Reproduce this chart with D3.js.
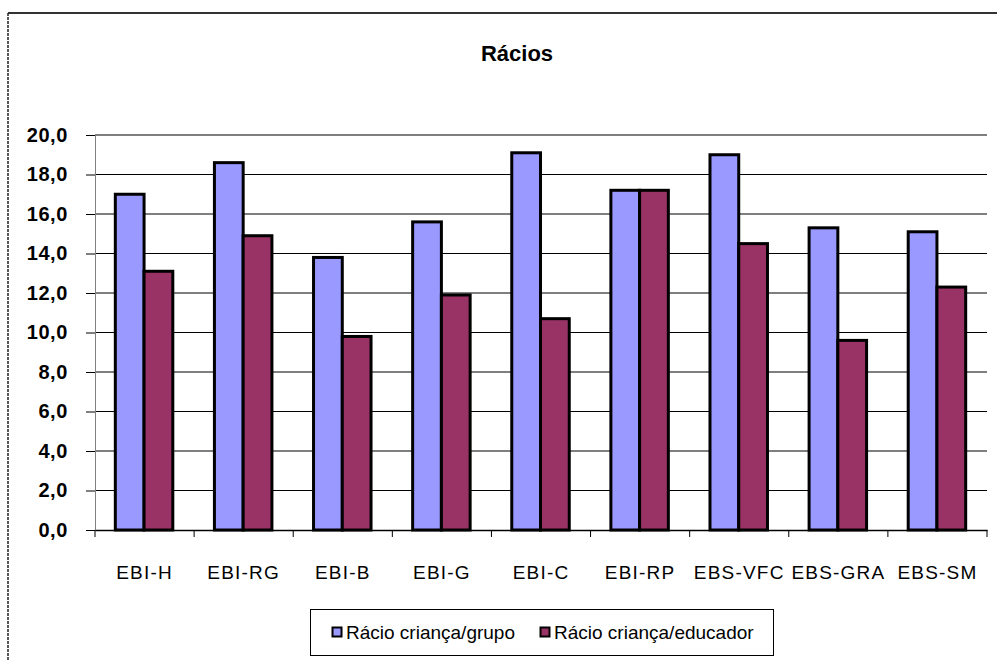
<!DOCTYPE html>
<html>
<head>
<meta charset="utf-8">
<script src="https://cdn.jsdelivr.net/npm/d3@7"></script>
<style>
  body { margin: 0; background: #fff; }
  svg { display: block; font-family: Arial, "Liberation Sans", sans-serif; }
</style>
</head>
<body>
<svg id="chart" width="997" height="660"></svg>
<script>
// data
const categories = ["EBI-H", "EBI-RG", "EBI-B", "EBI-G", "EBI-C", "EBI-RP", "EBS-VFC", "EBS-GRA", "EBS-SM"];
const series = ["Rácio criança/grupo", "Rácio criança/educador"];
const ratioGroup = [17.0, 18.6, 13.8, 15.6, 19.1, 17.2, 19.0, 15.3, 15.1];
const ratioEducator = [13.1, 14.9, 9.8, 11.9, 10.7, 17.2, 14.5, 9.6, 12.3];
const yTicks = [0, 2, 4, 6, 8, 10, 12, 14, 16, 18, 20];
const colors = ["#9999FF", "#993366"];

const svg = d3.select("#chart");
const plot = {left: 95, right: 987, top: 135, bottom: 530};

// outer frame: solid top, dashed left
svg.append("line").attr("x1", 8).attr("x2", 997).attr("y1", 13).attr("y2", 13)
    .attr("stroke", "#333").attr("stroke-width", 2);
svg.append("line").attr("x1", 8).attr("x2", 8).attr("y1", 13).attr("y2", 660)
    .attr("stroke", "#222").attr("stroke-width", 1.5).attr("stroke-dasharray", "3,1");

svg.append("text").attr("x", 517).attr("y", 61).attr("text-anchor", "middle")
    .attr("font-size", 22).attr("font-weight", "bold").text("Rácios");

const x0 = d3.scaleBand().domain(categories).range([plot.left, plot.right]);
const x1 = d3.scaleBand().domain(series).range([x0.step() * 0.205, x0.step() * 0.785]);
const y = d3.scaleLinear().domain([0, 20]).range([plot.bottom, plot.top]);

// gridlines
svg.append("g").selectAll("line").data(yTicks.filter(d => d > 0)).join("line")
    .attr("x1", plot.left).attr("x2", plot.right)
    .attr("y1", d => y(d)).attr("y2", d => y(d))
    .attr("stroke", "#000").attr("stroke-width", 1.2);

// y axis
const yAxis = svg.append("g").attr("transform", `translate(${plot.left},0)`)
    .call(d3.axisLeft(y).tickValues(yTicks).tickSize(9).tickPadding(18)
        .tickFormat(d => d3.format(".1f")(d).replace(".", ",")));
yAxis.select(".domain").attr("stroke", "#808080");
yAxis.selectAll(".tick line").attr("stroke", "#000");
yAxis.selectAll("text").attr("font-size", 20).attr("font-weight", "bold").attr("letter-spacing", 0.6)
    .attr("font-family", "Arial, 'Liberation Sans', sans-serif").attr("fill", "#000");

// bars
const rows = categories.map((c, i) => ({cat: c, vals: [ratioGroup[i], ratioEducator[i]]}));
svg.append("g").selectAll("g").data(rows).join("g")
    .attr("transform", d => `translate(${x0(d.cat)},0)`)
    .selectAll("rect").data(d => d.vals.map((v, j) => ({key: series[j], v, j}))).join("rect")
    .attr("x", d => x1(d.key)).attr("width", x1.bandwidth())
    .attr("y", d => y(d.v)).attr("height", d => y(0) - y(d.v))
    .attr("fill", d => colors[d.j]).attr("stroke", "#000").attr("stroke-width", 3);

// x axis
const xAxis = svg.append("g").attr("transform", `translate(0,${plot.bottom})`)
    .call(d3.axisBottom(x0).tickSize(0).tickPadding(36));
xAxis.select(".domain").attr("stroke", "#000").attr("stroke-width", 1.5);
xAxis.selectAll("text").attr("font-size", 19).attr("letter-spacing", 1.2)
    .attr("font-family", "Arial, 'Liberation Sans', sans-serif").attr("fill", "#000");
svg.append("g").selectAll("line").data(d3.range(categories.length + 1)).join("line")
    .attr("x1", i => plot.left + i * x0.step()).attr("x2", i => plot.left + i * x0.step())
    .attr("y1", plot.bottom).attr("y2", plot.bottom + 7)
    .attr("stroke", "#000");

// legend
const lg = svg.append("g");
lg.append("rect").attr("x", 310.5).attr("y", 609.5).attr("width", 463).attr("height", 46)
    .attr("fill", "#fff").attr("stroke", "#000");
const legendX = [332, 540];
series.forEach((s, i) => {
    lg.append("rect").attr("x", legendX[i] + 0.5).attr("y", 627.5).attr("width", 9).attr("height", 9)
        .attr("fill", colors[i]).attr("stroke", "#000").attr("stroke-width", 2);
    lg.append("text").attr("x", legendX[i] + 14).attr("y", 639).attr("font-size", 19).text(s);
});
</script>
</body>
</html>
